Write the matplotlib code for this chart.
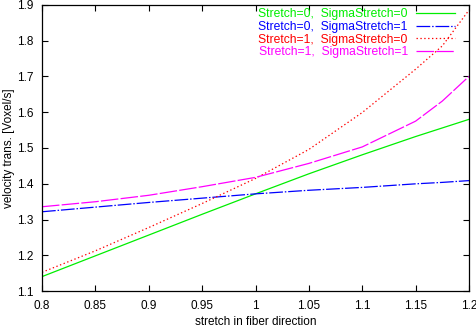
import matplotlib
matplotlib.use("Agg")
import matplotlib.pyplot as plt

plt.rcParams['font.family'] = ['Liberation Sans', 'DejaVu Sans']

stretch = [0.8, 0.85, 0.9, 0.95, 1.0, 1.05, 1.1, 1.15, 1.175, 1.2]
v_s0_sig0 = [1.141, 1.199, 1.257, 1.315, 1.372, 1.428, 1.481, 1.532, 1.556, 1.580]
v_s0_sig1 = [1.322, 1.335, 1.348, 1.360, 1.372, 1.382, 1.390, 1.400, 1.404, 1.409]
v_s1_sig0 = [1.153, 1.213, 1.278, 1.345, 1.415, 1.496, 1.599, 1.720, 1.785, 1.885]
v_s1_sig1 = [1.336, 1.350, 1.368, 1.392, 1.418, 1.457, 1.503, 1.575, 1.631, 1.700]

labels = ["Stretch=0,  SigmaStretch=0", "Stretch=0,  SigmaStretch=1",
          "Stretch=1,  SigmaStretch=0", "Stretch=1,  SigmaStretch=1"]
colors = ["#00ee00", "#0000ff", "#ff0000", "#ff00ff"]
styles = ["-", (0, (11, 1.5, 1.2, 1.5)), (0, (1.1, 2.0)), (0, (14, 1.8))]

xticks = [0.8, 0.85, 0.9, 0.95, 1.0, 1.05, 1.1, 1.15, 1.2]
xticklabels = ["0.8", "0.85", "0.9", "0.95", "1", "1.05", "1.1", "1.15", "1.2"]
yticks = [1.1, 1.2, 1.3, 1.4, 1.5, 1.6, 1.7, 1.8, 1.9]
yticklabels = ["1.1", "1.2", "1.3", "1.4", "1.5", "1.6", "1.7", "1.8", "1.9"]

fig = plt.figure(figsize=(4.76, 3.28), dpi=100)
ax = fig.add_axes([42/476, 1-291.3/328, 427/476, 286.6/328])

for ys, lab, c, ls in zip([v_s0_sig0, v_s0_sig1, v_s1_sig0, v_s1_sig1], labels, colors, styles):
    ax.plot(stretch, ys, color=c, linestyle=ls, lw=0.9, label=lab)

ax.set_xlim(0.8, 1.2)
ax.set_ylim(1.1, 1.9)
ax.set_xticks(xticks)
ax.set_xticklabels(xticklabels)
ax.set_yticks(yticks)
ax.set_yticklabels(yticklabels)
ax.tick_params(direction='in', top=True, right=True, length=4.5, width=0.8,
               labelsize=8.5, pad=6)
for s in ax.spines.values():
    s.set_linewidth(0.9)

ax.set_xlabel("stretch in fiber direction", fontsize=8.5, labelpad=3)
ax.set_ylabel("velocity trans. [Voxel/s]", fontsize=8.5)
ax.yaxis.set_label_coords(-0.063, 0.5)

leg = ax.legend(loc='upper right', bbox_to_anchor=((455-42)/427, 1-(8.5-4.7)/286.6),
                frameon=False, markerfirst=False, fontsize=8.7, labelcolor=colors,
                handlelength=3.2, handletextpad=0.7, labelspacing=0.05,
                borderpad=0, borderaxespad=0)

fig.savefig("out.png", dpi=100)
